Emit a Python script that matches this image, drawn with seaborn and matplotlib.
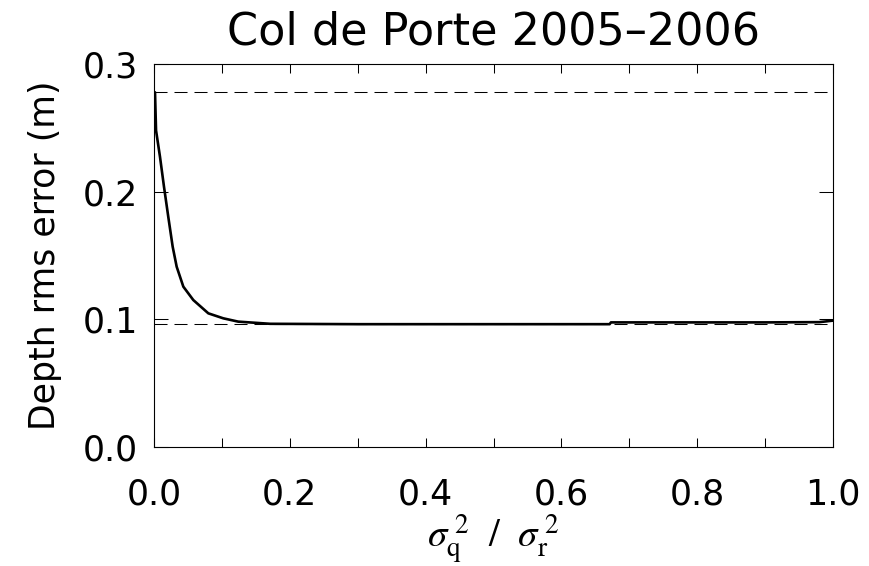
import matplotlib
matplotlib.use("Agg")
import matplotlib.pyplot as plt
import seaborn as sns
import pandas as pd
from matplotlib.ticker import MultipleLocator

# Data
ratio = [0.0, 0.0015, 0.003, 0.0088, 0.0147, 0.021, 0.0275, 0.0334, 0.0432,
         0.0579, 0.080, 0.102, 0.124, 0.171, 0.30, 0.50, 0.671, 0.673, 0.90,
         0.98, 1.0]
rms_error = [0.278, 0.2778, 0.248, 0.2274, 0.2039, 0.1804, 0.1569, 0.1412,
             0.1256, 0.1151, 0.1047, 0.1008, 0.0982, 0.0965, 0.0962, 0.0962,
             0.0962, 0.0976, 0.0976, 0.0978, 0.0990]
ref_levels = [0.278, 0.0965]

title = "Col de Porte 2005–2006"
ylabel = "Depth rms error (m)"
xlabel = r"$\sigma_{\mathrm{q}}^{\;2}\ \ /\ \ \sigma_{\mathrm{r}}^{\;2}$"
xticks = [0.0, 0.2, 0.4, 0.6, 0.8, 1.0]
yticks = [0.0, 0.1, 0.2, 0.3]

df = pd.DataFrame({"ratio": ratio, "rms": rms_error})

sns.set_style("ticks")
plt.rcParams["font.family"] = ["DejaVu Sans"]
plt.rcParams["mathtext.fontset"] = "stix"
for k in ["text.color", "axes.labelcolor", "xtick.color", "ytick.color"]:
    plt.rcParams[k] = "black"

fig = plt.figure(figsize=(8.69, 5.66), dpi=100)
ax = fig.add_axes([154/869, 1 - 447/566, (833-154)/869, (447-64)/566])

sns.lineplot(data=df, x="ratio", y="rms", ax=ax, color="black", linewidth=1.9)
for lv in ref_levels:
    ax.axhline(lv, color="black", linewidth=0.75, dashes=(12.5, 6.7))

ax.set_xlim(0, 1)
ax.set_ylim(0, 0.3)
ax.set_xticks(xticks)
ax.set_xticklabels([f"{t:.1f}" for t in xticks])
ax.xaxis.set_minor_locator(MultipleLocator(0.1))
ax.set_yticks(yticks)
ax.set_yticklabels([f"{t:.1f}" for t in yticks])

ax.tick_params(axis="x", which="both", direction="in", top=True, bottom=True,
               length=6.5, width=0.75, color="black", labelsize=25, pad=22)
ax.tick_params(axis="y", which="both", direction="in", left=True, right=True,
               length=10, width=0.75, color="black", labelsize=25, pad=11.5)
for s in ax.spines.values():
    s.set_visible(True)
    s.set_linewidth(0.8)
    s.set_color("black")

ax.set_title(title, fontsize=32, pad=14)
ax.set_ylabel(ylabel, fontsize=25, labelpad=15)
ax.set_xlabel(xlabel, fontsize=28, labelpad=1)

fig.savefig("out.png", dpi=100, facecolor="white")
